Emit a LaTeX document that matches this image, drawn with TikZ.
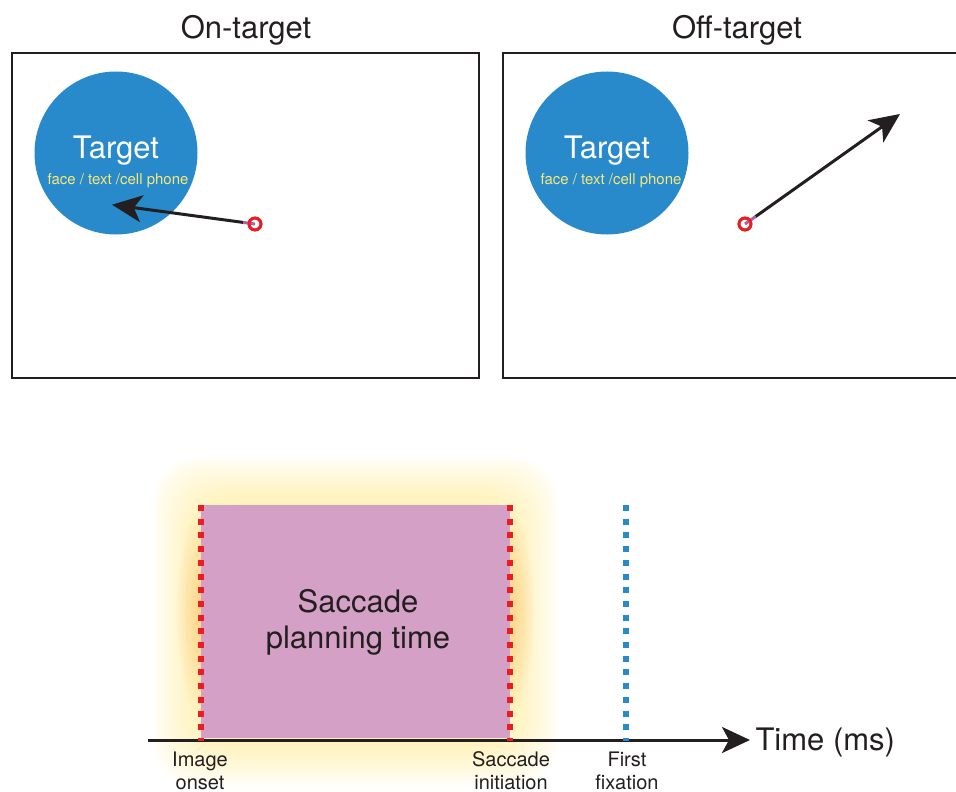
\documentclass[tikz,border=0pt]{standalone}
\usepackage{fontspec}
\setmainfont{TeX Gyre Heros}
\usetikzlibrary{arrows.meta}
\definecolor{ink}{RGB}{35,31,32}
\definecolor{tblue}{RGB}{40,138,202}
\definecolor{tyellow}{RGB}{248,232,120}
\definecolor{fixred}{RGB}{236,28,36}
\definecolor{plum}{RGB}{176,96,168}
\definecolor{pinkbox}{RGB}{212,160,198}
\definecolor{glowy}{RGB}{255,230,120}
\definecolor{glowo}{RGB}{250,170,60}
\tikzset{
  frame/.style={draw=ink, line width=1.3pt},
  title/.style={font=\fontsize{31}{34}\selectfont, text=ink},
  target/.style={circle, fill=tblue, minimum size=163pt, inner sep=0pt},
  tname/.style={font=\fontsize{31}{34}\selectfont, text=white},
  tsub/.style={font=\fontsize{15}{17}\selectfont, text=tyellow},
  fixation/.style={circle, draw=fixred, line width=2.8pt, minimum size=12pt, inner sep=0pt},
  saccade/.style={draw=ink, line width=3pt, -{Stealth[length=30pt, width=27pt, inset=8pt]}},
  stub/.style={draw=plum, line width=3pt},
  event/.style={line width=6.5pt, dash pattern=on 6pt off 7.7pt},
  tick/.style={font=\fontsize{20}{23}\selectfont, text=ink, align=center, anchor=north},
  big/.style={font=\fontsize{31}{36}\selectfont, text=ink, align=center}
}
\begin{document}
\begin{tikzpicture}[x=1pt, y=-1pt]
\useasboundingbox (0,0) rectangle (956,792);
\clip (0,0) rectangle (956,792);

% ---------- top panels ----------
\node[title] (tleft) at (246,30) {On-target};
\node[title] (tright) at (737,30) {Off-target};
\draw[frame] (12,53) rectangle (479,378);
\draw[frame] (503,53) rectangle (975,378);

\node[target] (goalL) at (116,153) {};
\node[tname] (lblL) at (116,151) {Target};
\node[tsub] (subL) at (118,181) {face / text /cell phone};

\node[target] (goalR) at (607,153) {};
\node[tname] (lblR) at (607,151) {Target};
\node[tsub] (subR) at (611,181) {face / text /cell phone};

% on-target saccade
\coordinate (endL) at (112,204.7);
\coordinate (stubL) at (243,222.4);
\node[fixation] (fixL) at (255,224) {};
\draw[saccade] (stubL) -- (endL);
\draw[stub] (fixL.center) -- (stubL);
\node[fixation] at (fixL) {};

% off-target saccade
\coordinate (endR) at (900,114);
\coordinate (stubR) at (755.5,216.6);
\node[fixation] (fixR) at (745,224) {};
\draw[saccade] (stubR) -- (endR);
\draw[stub] (fixR.center) -- (stubR);
\node[fixation] at (fixR) {};

% ---------- timeline ----------
% soft yellow glow round the planning interval
\foreach \e in {48,45,...,0}{
  \fill[glowy, opacity=0.045, rounded corners=44pt] (201-\e,505-\e) rectangle (510+\e,738+\e);
}
\foreach \s in {1,...,10}{
  \fill[glowo, opacity=0.04] (201,612) ellipse ({3+2.2*\s} and {10+9*\s});
  \fill[glowo, opacity=0.04] (510,612) ellipse ({3+2.2*\s} and {10+9*\s});
}
\fill[pinkbox] (201,505) rectangle (510,738);
\node[big] (plan) at (358,622) {Saccade\\planning time};

\coordinate (axisL) at (148,740);
\coordinate (axisR) at (750,740);
\draw[ink, line width=3pt, -{Stealth[length=28pt, width=26pt, inset=7pt]}] (axisL) -- (axisR);
\node[big, anchor=west] (tlabel) at (752,742) {Time (ms)};

\coordinate (onsetTop) at (201,505);
\coordinate (onsetBot) at (201,741);
\coordinate (initTop) at (510,505);
\coordinate (initBot) at (510,741);
\coordinate (fixTop) at (626,505);
\coordinate (fixBot) at (626,741);
\draw[event, fixred] (onsetTop) -- (onsetBot);
\draw[event, fixred] (initTop) -- (initBot);
\draw[event, tblue] (fixTop) -- (fixBot);

\node[tick] (onset) at (200,748) {Image\\onset};
\node[tick] (init) at (511,748) {Saccade\\initiation};
\node[tick] (first) at (627,748) {First\\fixation};
\end{tikzpicture}
\end{document}
